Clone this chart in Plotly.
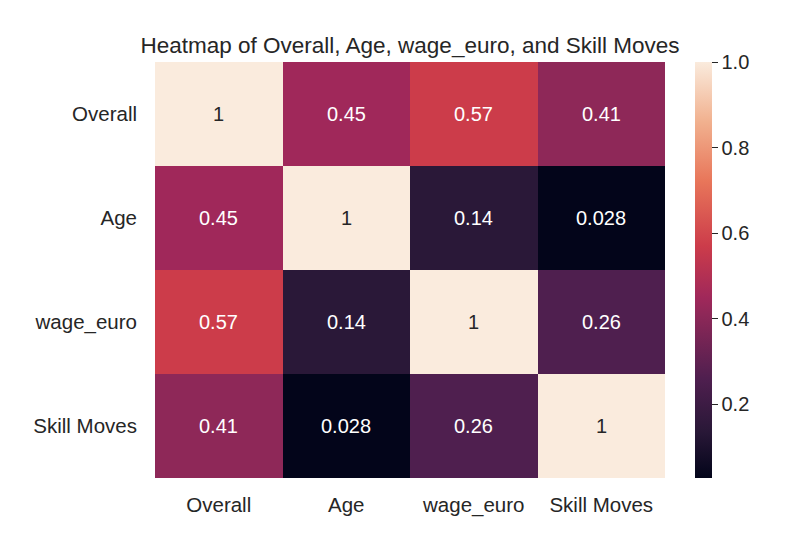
import plotly.graph_objects as go

labels = ["Overall", "Age", "wage_euro", "Skill Moves"]
corr = [
    [1.0, 0.45, 0.57, 0.41],
    [0.45, 1.0, 0.14, 0.028],
    [0.57, 0.14, 1.0, 0.26],
    [0.41, 0.028, 0.26, 1.0],
]
annot_text = [
    ["1", "0.45", "0.57", "0.41"],
    ["0.45", "1", "0.14", "0.028"],
    ["0.57", "0.14", "1", "0.26"],
    ["0.41", "0.028", "0.26", "1"],
]
cbar_ticks = [0.2, 0.4, 0.6, 0.8, 1.0]

rocket = [
    [0.0, "#03051a"],
    [0.115, "#2a1838"],
    [0.239, "#4f1f4f"],
    [0.393, "#8e2858"],
    [0.434, "#a0285a"],
    [0.558, "#cc3c4a"],
    [0.714, "#e8765a"],
    [0.857, "#f1b18f"],
    [1.0, "#faebdd"],
]

zmin = min(min(r) for r in corr)
zmax = max(max(r) for r in corr)

FONT = "Liberation Sans, Arial, sans-serif"
TXT = "#262626"

fig = go.Figure(go.Heatmap(
    z=corr, x=labels, y=labels,
    colorscale=rocket, zmin=zmin, zmax=zmax,
    xgap=0, ygap=0,
    hoverinfo="skip",
    colorbar=dict(
        x=1.059, xanchor="left", xref="paper", xpad=0, ypad=0,
        y=0, yanchor="bottom", len=1, lenmode="fraction",
        thickness=17, outlinewidth=0,
        tickvals=cbar_ticks, ticktext=[f"{t:.1f}" for t in cbar_ticks],
        ticks="outside", ticklen=6, tickwidth=1.3, tickcolor=TXT,
        tickfont=dict(family=FONT, size=20, color=TXT),
    ),
))

for i, row in enumerate(corr):
    for j, v in enumerate(row):
        norm = (v - zmin) / (zmax - zmin)
        color = TXT if norm > 0.8 else "white"
        fig.add_annotation(
            x=labels[j], y=labels[i], text=annot_text[i][j],
            showarrow=False, font=dict(family=FONT, size=20, color=color),
        )

fig.update_layout(
    width=810, height=534,
    margin=dict(l=155, r=145, t=62, b=56),
    paper_bgcolor="white", plot_bgcolor="white",
    title=dict(
        text="Heatmap of Overall, Age, wage_euro, and Skill Moves",
        x=0.5, xanchor="center", xref="paper",
        y=1 - 45/534, yanchor="middle",
        font=dict(family=FONT, size=22.5, color=TXT),
    ),
    xaxis=dict(showgrid=False, zeroline=False, ticks="", ticklabelstandoff=12,
               tickfont=dict(family=FONT, size=20.5, color=TXT)),
    yaxis=dict(showgrid=False, zeroline=False, ticks="", autorange="reversed",
               ticklabelstandoff=17,
               tickfont=dict(family=FONT, size=20.5, color=TXT)),
)

fig.write_html("out.html")
